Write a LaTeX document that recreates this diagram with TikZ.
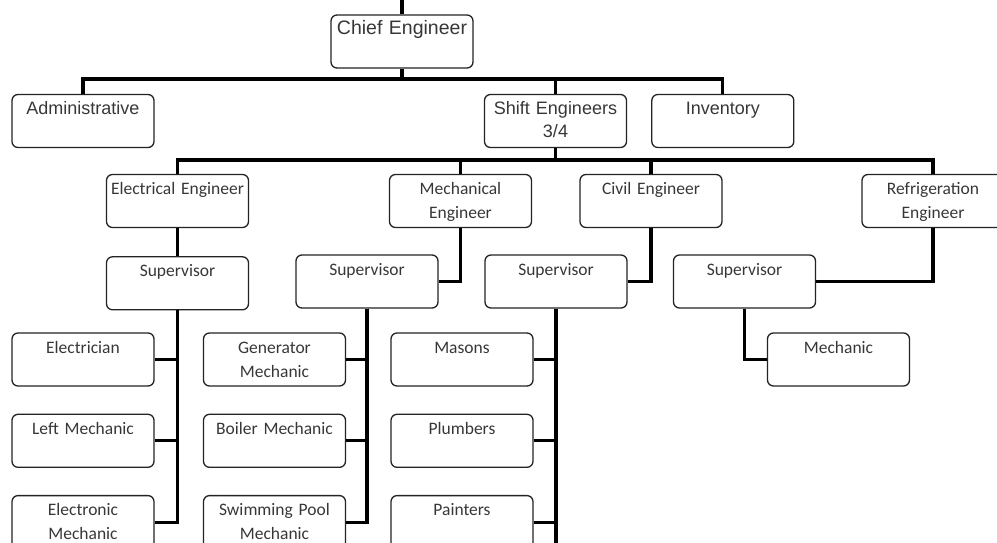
\documentclass[tikz,border=0pt]{standalone}
\usepackage{fontspec}
\setmainfont{Carlito}
\newfontfamily\headfont{Liberation Sans}
\usetikzlibrary{positioning}
\definecolor{boxline}{RGB}{35,35,35}
\definecolor{boxtext}{RGB}{55,55,55}

\begin{document}
\begin{tikzpicture}[
    x=1pt, y=-1pt,
    node distance=27pt and 24pt,
    box/.style={rectangle, rounded corners=6pt, draw=boxline, line width=1.3pt,
                text width=142pt, align=center, inner sep=0pt,
                text height=20pt, text depth=33pt, text=boxtext,
                font=\fontsize{17.5}{24}\selectfont},
    headbox/.style={box, font=\headfont\fontsize{18}{23}\selectfont},
    link/.style={line width=3.2pt, black, line join=miter}
]
\clip[use as bounding box] (0,0) rectangle (997,543);

% Top level
\coordinate (entry) at (402,0);
\node[headbox, font=\headfont\fontsize{19.5}{23}\selectfont] (chief) at (402,41.5) {Chief Engineer};
\node[headbox] (admin) at (83,121) {Administrative};
\node[headbox] (shift) at (555.5,121) {Shift Engineers\\3/4};
\node[headbox, right=of shift] (inventory) {Inventory};

% Engineers
\node[box] (electrical) at (177.5,201) {Electrical Engineer};
\node[box] (mechanical) at (460.5,201) {Mechanical\\Engineer};
\node[box] (civil)      at (651,201)   {Civil Engineer};
\node[box] (refrig)     at (933,201)   {Refrigeration\\Engineer};

% Supervisors
\node[box, below=28pt of electrical] (supelec) {Supervisor};
\node[box] (supmech)   at (367,281.5)   {Supervisor};
\node[box] (supcivil)  at (556,281.5)   {Supervisor};
\node[box] (suprefrig) at (744.5,281.5) {Supervisor};

% Workers
\node[box] (electrician) at (83,359.5) {Electrician};
\node[box, below=of electrician] (liftmech)   {Left Mechanic};
\node[box, below=of liftmech]    (electronic) {Electronic\\Mechanic};
\node[box] (generator) at (274.5,359.5) {Generator\\Mechanic};
\node[box, below=of generator]   (boiler)     {Boiler Mechanic};
\node[box, below=of boiler]      (pool)       {Swimming Pool\\Mechanic};
\node[box] (masons) at (462,359.5) {Masons};
\node[box, below=of masons]      (plumbers)   {Plumbers};
\node[box, below=of plumbers]    (painters)   {Painters};
\node[box] (mechanic) at (838.5,359.5) {Mechanic};

% Connectors
\coordinate (bus1) at (402,79);
\coordinate (bus2) at (555.5,160);
\coordinate (tail) at (556,560);

\draw[link] (entry) -- (chief);
\draw[link] (chief) -- (bus1);
\draw[link] (admin) |- (bus1) -| (inventory);
\draw[link] (shift) -- (shift |- bus1);

\draw[link] (shift) -- (bus2);
\draw[link] (electrical) |- (bus2) -| (refrig);
\draw[link] (mechanical) -- (mechanical |- bus2);
\draw[link] (civil) -- (civil |- bus2);

\draw[link] (electrical) -- (supelec);
\draw[link] (mechanical) |- (supmech);
\draw[link] (civil) |- (supcivil);
\draw[link] (refrig) |- (suprefrig);

\foreach \w in {electrician, liftmech, electronic} \draw[link] (supelec) |- (\w);
\foreach \w in {generator, boiler, pool} \draw[link] (supmech) |- (\w);
\foreach \w in {masons, plumbers, painters} \draw[link] (supcivil) |- (\w);
\draw[link] (supcivil) -- (supcivil |- tail);
\draw[link] (suprefrig) |- (mechanic);

\end{tikzpicture}
\end{document}
